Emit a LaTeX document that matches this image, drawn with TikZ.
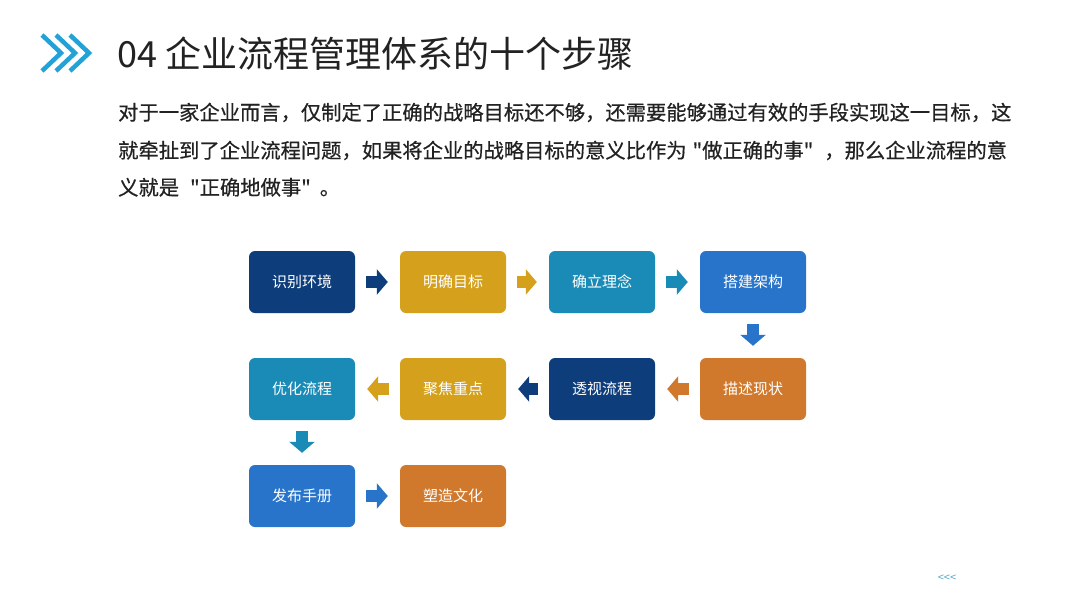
\documentclass[tikz,border=0pt]{standalone}
\usepackage{fontspec}
\setmainfont{Noto Sans CJK SC}[Ligatures=TeXOff]
\newfontfamily\introfont{Noto Sans CJK SC}[Ligatures=TeXOff,FakeBold=0.6]
\usetikzlibrary{arrows.meta}

\definecolor{stepnavy}{HTML}{0E3D7C}
\definecolor{stepgold}{HTML}{D5A11C}
\definecolor{stepteal}{HTML}{1A8BB7}
\definecolor{stepblue}{HTML}{2874CA}
\definecolor{steporange}{HTML}{D0792D}
\definecolor{chevcyan}{HTML}{22A2D6}
\definecolor{inktext}{HTML}{222222}

\tikzset{
    stepbox/.style={rounded corners=6pt, minimum width=106pt, minimum height=62pt,
        inner sep=0pt, text=white, font=\fontsize{15}{18}\selectfont},
    flow/.style={line width=12pt, -{Triangle[length=11pt,width=25pt]},
        shorten <=11pt, shorten >=12pt},
    introline/.style={anchor=base west, inner sep=0pt, text=inktext,
        font=\introfont\fontsize{20.3}{24}\selectfont}
}

\begin{document}
\begin{tikzpicture}[x=1pt,y=-1pt]
    \useasboundingbox [fill=white] (0,0) rectangle (1080,608);

    % heading
    \foreach \i in {0,1,2}
        \draw [chevcyan,line width=4.5pt] (42+14*\i,35)--(61+14*\i,53)--(42+14*\i,71);
    \node [anchor=base west,inner sep=0pt,text=inktext,font=\fontsize{36}{40}\selectfont] (title) at (117,67) {04 企业流程管理体系的十个步骤};

    \node [introline] (intro1) at (118,120) {对于一家企业而言，仅制定了正确的战略目标还不够，还需要能够通过有效的手段实现这一目标，这};
    \node [introline] (intro2) at (118,158) {就牵扯到了企业流程问题，如果将企业的战略目标的意义比作为\hspace{6pt}"做正确的事"\hspace{11pt}，那么企业流程的意};
    \node [introline] (intro3) at (118,195) {义就是\hspace{11pt}"正确地做事"\hspace{9pt}。};

    % steps
    \node [stepbox,fill=stepnavy] (env) at (302,282) {识别环境};
    \node [stepbox,fill=stepgold] (goal) at (453,282) {明确目标};
    \node [stepbox,fill=stepteal] (idea) at (602,282) {确立理念};
    \node [stepbox,fill=stepblue] (frame) at (753,282) {搭建架构};

    \node [stepbox,fill=steporange] (state) at (753,389) {描述现状};
    \node [stepbox,fill=stepnavy] (view) at (602,389) {透视流程};
    \node [stepbox,fill=stepgold] (focus) at (453,389) {聚焦重点};
    \node [stepbox,fill=stepteal] (optim) at (302,389) {优化流程};

    \node [stepbox,fill=stepblue] (manual) at (302,496) {发布手册};
    \node [stepbox,fill=steporange] (culture) at (453,496) {塑造文化};

    \draw [flow,stepnavy] (env)--(goal);
    \draw [flow,stepgold] (goal)--(idea);
    \draw [flow,stepteal] (idea)--(frame);
    \draw [flow,stepblue] (frame)--(state);
    \draw [flow,steporange] (state)--(view);
    \draw [flow,stepnavy] (view)--(focus);
    \draw [flow,stepgold] (focus)--(optim);
    \draw [flow,stepteal] (optim)--(manual);
    \draw [flow,stepblue] (manual)--(culture);

    \node [text=stepteal!75,font=\fontsize{11}{12}\selectfont] (back) at (947,578) {<<<};
\end{tikzpicture}
\end{document}
